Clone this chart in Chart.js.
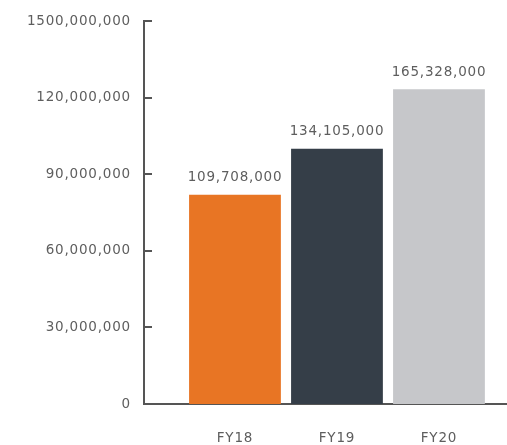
<!DOCTYPE html>
<html>
<head>
<meta charset="utf-8">
<script src="https://cdn.jsdelivr.net/npm/chart.js@4"></script>
<style>
  html, body { margin: 0; padding: 0; background: #fff; }
  #wrap { width: 507px; height: 445px; }
</style>
</head>
<body>
<div id="wrap"><canvas id="chart"></canvas></div>
<script>
// data
const categories = ['FY18', 'FY19', 'FY20'];
const barValues = [82000000, 100000000, 123300000];
const valueLabels = ['109,708,000', '134,105,000', '165,328,000'];
const barColors = ['#E87524', '#353E48', '#C6C7CA'];
const yTicks = [0, 30000000, 60000000, 90000000, 120000000, 150000000];
const yTickLabels = ['0', '30,000,000', '60,000,000', '90,000,000', '120,000,000', '1500,000,000'];

const textColor = '#5e5e5e';
const axisColor = '#555555';
const fontFamily = '"DejaVu Sans", sans-serif';

// small tick marks that point into the plot, plus value labels over the bars
const decorPlugin = {
    id: 'decor',
    beforeDraw(chart) {
        chart.ctx.letterSpacing = '0.8px';
    },
    afterDatasetsDraw(chart) {
        const ctx = chart.ctx;
        const yScale = chart.scales.y;
        const left = chart.chartArea.left;
        ctx.save();
        ctx.strokeStyle = axisColor;
        ctx.lineWidth = 2;
        yTicks.forEach(v => {
            const y = Math.round(yScale.getPixelForValue(v));
            ctx.beginPath();
            ctx.moveTo(left, y);
            ctx.lineTo(left + 8, y);
            ctx.stroke();
        });

        ctx.fillStyle = textColor;
        ctx.font = '13.5px ' + fontFamily;
        ctx.textAlign = 'center';
        ctx.textBaseline = 'middle';
        chart.getDatasetMeta(0).data.forEach((bar, i) => {
            ctx.fillText(valueLabels[i], bar.x, bar.y - 17);
        });
        ctx.restore();
    }
};

new Chart(document.getElementById('chart').getContext('2d'), {
    type: 'bar',
    data: {
        datasets: [{
            data: categories.map((c, i) => ({ x: i, y: barValues[i] })),
            backgroundColor: barColors,
            borderWidth: 0,
            barPercentage: 0.9,
            categoryPercentage: 1.0
        }]
    },
    options: {
        responsive: true,
        maintainAspectRatio: false,
        animation: false,
        layout: { padding: { top: 20, right: 0, left: 0, bottom: 0 } },
        plugins: {
            legend: { display: false },
            tooltip: { enabled: false }
        },
        scales: {
            x: {
                type: 'linear',
                offset: false,
                bounds: 'data',
                min: -0.892,
                max: 2.667,
                afterBuildTicks(scale) {
                    scale.ticks = categories.map((c, i) => ({ value: i }));
                },
                afterFit(scale) {
                    scale.height = 41;
                },
                ticks: {
                    callback: v => categories[v],
                    color: textColor,
                    font: { family: fontFamily, size: 13.5 },
                    padding: 26,
                    maxRotation: 0,
                    autoSkip: false
                },
                grid: { display: false, drawTicks: false },
                border: { display: true, color: axisColor, width: 2 }
            },
            y: {
                min: 0,
                max: 150000000,
                afterBuildTicks(scale) {
                    scale.ticks = yTicks.map(v => ({ value: v }));
                },
                afterFit(scale) {
                    scale.width = 144;
                },
                ticks: {
                    callback: (v, i) => yTickLabels[i],
                    color: textColor,
                    font: { family: fontFamily, size: 13.5 },
                    padding: 13
                },
                grid: { display: false, drawTicks: false },
                border: { display: true, color: axisColor, width: 2 }
            }
        }
    },
    plugins: [decorPlugin]
});
</script>
</body>
</html>
